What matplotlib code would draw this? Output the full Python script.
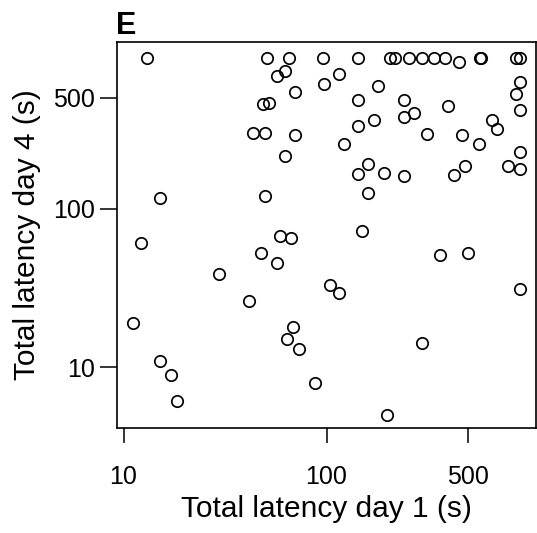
# Scatter of total latency, day 1 vs day 4 (log-log), panel E

import numpy as np
import matplotlib.pyplot as plt

plt.rcParams['font.family'] = ['Liberation Sans', 'DejaVu Sans']

# Total latency day 1 (s)
day1 = [13.0, 50.7, 65.2, 95.6, 143.7, 205, 217, 254, 294, 339, 382, 569, 580, 862, 895, 450,
        62.3, 56.7, 69.6, 52.0, 48.4, 43.2, 49.7, 69.8, 62.3, 15.2, 49.5, 59.1, 66.7,
        97.3, 115, 179.5, 902, 862, 143.7, 242, 399, 902, 271, 242, 654, 690, 172, 143.7,
        311, 467, 122.6, 562, 898, 161, 143.7, 193, 242, 480, 427, 787, 898, 161, 150,
        12.2, 47.5, 56.9, 29.5, 41.3, 11.1, 68.0, 63.6, 72.8, 15.2, 17.1, 18.4, 87.3,
        364, 500, 104.6, 115, 898, 297, 198]

# Total latency day 4 (s)
day4 = [887, 887, 887, 887, 887, 887, 887, 887, 887, 887, 887, 887, 887, 887, 887, 836,
        740, 685, 541, 467, 456, 302, 302, 293, 214, 116, 120, 67, 65,
        610, 702, 595, 628, 527, 483, 483, 443, 418, 404, 381, 363, 320, 361, 330,
        295, 293, 254, 254, 227, 190, 165, 169, 160, 186, 164, 186, 179, 126, 72,
        60.6, 52.7, 45.6, 38.5, 26.2, 19.0, 17.9, 15.1, 13.0, 11.0, 8.94, 6.12, 7.94,
        51.2, 52.7, 33.2, 29.5, 31.0, 14.2, 5.02]

tick_vals = [10, 100, 500]
tick_labels = ['10', '100', '500']

fig = plt.figure(figsize=(5.37, 5.33), dpi=100)
ax = fig.add_axes([0.2173, 0.1975, 0.7807, 0.7243])

ax.plot(day1, day4, linestyle='none', marker='o', ms=8.2,
        mfc='none', mec='black', mew=1.25)

ax.set_xscale('log')
ax.set_yscale('log')
ax.set_xlim(9.25, 1076)
ax.set_ylim(4.16, 1130)

ax.set_xticks(tick_vals)
ax.set_xticklabels(tick_labels)
ax.set_yticks(tick_vals)
ax.set_yticklabels(tick_labels)
ax.minorticks_off()

ax.tick_params(axis='x', direction='out', length=10.5, width=1.1, pad=16, labelsize=18)
ax.tick_params(axis='y', direction='out', length=12.5, width=1.1, pad=3, labelsize=18)

for sp in ax.spines.values():
    sp.set_linewidth(1.2)

ax.set_xlabel('Total latency day 1 (s)', fontsize=21.5)
ax.set_ylabel('Total latency day 4 (s)', fontsize=21.5)
ax.xaxis.set_label_coords(0.5, -0.175)
ax.yaxis.set_label_coords(-0.18, 0.5)

# panel letter
fig.text(116 / 537, 1 - 34 / 533, 'E', fontsize=22, fontweight='bold',
         ha='left', va='baseline')

fig.savefig('out.png', dpi=100)
